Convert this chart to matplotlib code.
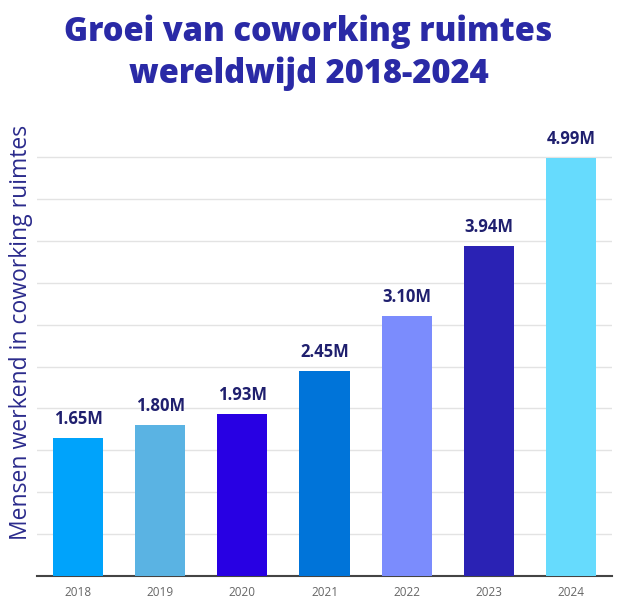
import matplotlib.pyplot as plt
import numpy as np

# Data
years = ['2018', '2019', '2020', '2021', '2022', '2023', '2024']
people_m = [1.65, 1.80, 1.93, 2.45, 3.10, 3.94, 4.99]
labels = ['1.65M', '1.80M', '1.93M', '2.45M', '3.10M', '3.94M', '4.99M']
colors = ['#00a3fb', '#5ab3e3', '#2800e3', '#0074d9', '#7b8cfd', '#2a22b4', '#66dbfd']

plt.rcParams['font.family'] = ['Open Sans', 'DejaVu Sans']

fig = plt.figure(figsize=(6.17, 6.13), dpi=100)
ax = fig.add_axes([0.060, 0.0603, 0.932, 0.752])

x = np.arange(len(years))
bars = ax.bar(x, people_m, width=0.61, color=colors, zorder=3)

for xi, v, lab in zip(x, people_m, labels):
    ax.text(xi, v + 0.12, lab, ha='center', va='bottom', fontsize=12,
            fontweight='bold', color='#1f1f6e')

ax.set_xlim(-0.5, len(years) - 0.5)
ax.set_ylim(0, 5.5)
ax.set_yticks(np.arange(0, 5.01, 0.5))
ax.yaxis.grid(True, color='#e3e3e3', linewidth=1, zorder=0)
ax.tick_params(axis='y', length=0, labelleft=False)
ax.set_xticks(x)
ax.set_xticklabels(years, fontsize=8.5, color='#666666')
ax.tick_params(axis='x', length=0, pad=7)

for side in ['top', 'right', 'left']:
    ax.spines[side].set_visible(False)
ax.spines['bottom'].set_color('#444444')
ax.spines['bottom'].set_linewidth(1.5)

fig.text(0.034, 0.457, 'Mensen werkend in coworking ruimtes', rotation=90,
         ha='center', va='center', fontsize=16.5, color='#2b2b8c')

fig.text(0.5, 0.977, 'Groei van coworking ruimtes\nwereldwijd 2018-2024',
         ha='center', va='top', fontsize=23.5, fontweight='heavy',
         color='#2a2aa6', linespacing=1.3)

fig.savefig('out.png', dpi=100)
